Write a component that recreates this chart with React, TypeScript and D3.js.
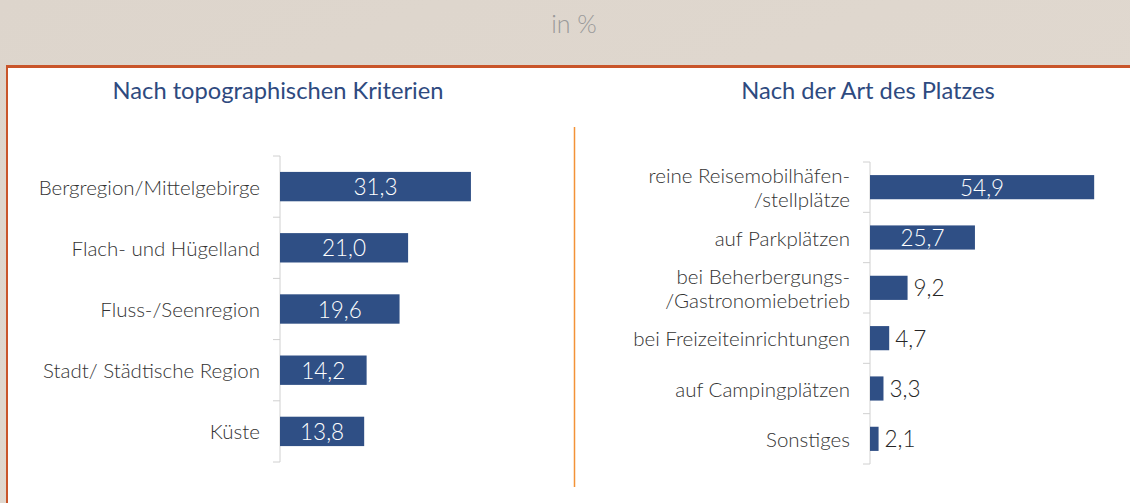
import React from "react";
import * as d3 from "d3";

const leftCategories = ["Bergregion/Mittelgebirge", "Flach- und Hügelland", "Fluss-/Seenregion", "Stadt/ Städtische Region", "Küste"];
const leftValues = [31.3, 21.0, 19.6, 14.2, 13.8];
const rightCategories = [
  ["reine Reisemobilhäfen-", "/stellplätze"],
  ["auf Parkplätzen"],
  ["bei Beherbergungs-", "/Gastronomiebetrieb"],
  ["bei Freizeiteinrichtungen"],
  ["auf Campingplätzen"],
  ["Sonstiges"],
];
const rightValues = [54.9, 25.7, 9.2, 4.7, 3.3, 2.1];
const subtitle = "in %";
const leftTitle = "Nach topographischen Kriterien";
const rightTitle = "Nach der Art des Platzes";

const BAR = "#2f4f85";
const FONT = "Lato, 'Open Sans', sans-serif";
const fmt = (v: number) => v.toFixed(1).replace(".", ",");

type PanelProps = {
  labels: string[][];
  values: number[];
  x0: number;
  xMax: number;
  pxWidth: number;
  y0: number;
  y1: number;
  insideMin: number;
};

function Panel({ labels, values, x0, xMax, pxWidth, y0, y1, insideMin }: PanelProps) {
  const keys = labels.map((l) => l.join(" "));
  const x = d3.scaleLinear().domain([0, xMax]).range([x0, x0 + pxWidth]);
  const y = d3.scaleBand<string>().domain(keys).range([y0, y1]).paddingInner(0.52).paddingOuter(0.26);
  const step = y.step();
  const ticks = d3.range(keys.length + 1).map((i) => y0 + i * step);
  return (
    <g>
      <line x1={x0} x2={x0} y1={y0} y2={y1} stroke="#d0d0d0" strokeWidth={1} />
      {ticks.map((t, i) => (
        <line key={i} x1={x0 - 7} x2={x0} y1={t} y2={t} stroke="#d0d0d0" strokeWidth={1} />
      ))}
      {keys.map((k, i) => {
        const by = y(k)!;
        const bw = y.bandwidth();
        const cy = by + bw / 2;
        const v = values[i];
        const inside = v >= insideMin;
        const lines = labels[i];
        const lh = 24;
        return (
          <g key={k}>
            <rect x={x(0)} y={by} width={x(v) - x(0)} height={bw} fill={BAR} />
            {inside ? (
              <text x={(x(0) + x(v)) / 2} y={cy} textAnchor="middle" dominantBaseline="central" fill="#ffffff" fontSize={22.5} fontWeight={300} fontFamily={FONT}>
                {fmt(v)}
              </text>
            ) : (
              <text x={x(v) + 6} y={cy} dominantBaseline="central" fill="#262626" fontSize={22.5} fontWeight={300} fontFamily={FONT}>
                {fmt(v)}
              </text>
            )}
            {lines.map((ln, j) => (
              <text key={j} x={x0 - 20} y={cy + (j - (lines.length - 1) / 2) * lh} textAnchor="end" dominantBaseline="central" fill="#333333" fontSize={20.5} fontWeight={300} fontFamily={FONT}>
                {ln}
              </text>
            ))}
          </g>
        );
      })}
    </g>
  );
}

export default function App() {
  return (
    <div style={{ position: "fixed", left: 0, top: 0 }}>
      <svg width={1130} height={503} style={{ display: "block" }}>
        <defs>
          <linearGradient id="bg" x1="0" y1="0" x2="1" y2="1">
            <stop offset="0" stopColor="#ddd5cc" />
            <stop offset="1" stopColor="#e2dad1" />
          </linearGradient>
        </defs>
        <rect x={0} y={0} width={1130} height={503} fill="url(#bg)" />
        <rect x={8} y={68} width={1122} height={435} fill="#ffffff" />
        <rect x={6} y={65} width={1124} height={3} fill="#c9552a" />
        <rect x={6} y={65} width={2} height={438} fill="#c9552a" />
        <text x={574} y={23} textAnchor="middle" dominantBaseline="central" fill="#9a9a9a" fontSize={25} fontWeight={300} fontFamily={FONT}>
          {subtitle}
        </text>
        <text x={278} y={90} textAnchor="middle" dominantBaseline="central" fill="#2e4a7f" fontSize={23.7} fontFamily={FONT}>
          {leftTitle}
        </text>
        <text x={868} y={90} textAnchor="middle" dominantBaseline="central" fill="#2e4a7f" fontSize={23.7} fontFamily={FONT}>
          {rightTitle}
        </text>
        <line x1={574.5} x2={574.5} y1={127} y2={487} stroke="#f39237" strokeWidth={1.5} />
        <Panel labels={leftCategories.map((c) => [c])} values={leftValues} x0={280} xMax={35} pxWidth={213.5} y0={156} y1={462} insideMin={10} />
        <Panel labels={rightCategories} values={rightValues} x0={870} xMax={60} pxWidth={245} y0={162} y1={464} insideMin={10} />
      </svg>
    </div>
  );
}
